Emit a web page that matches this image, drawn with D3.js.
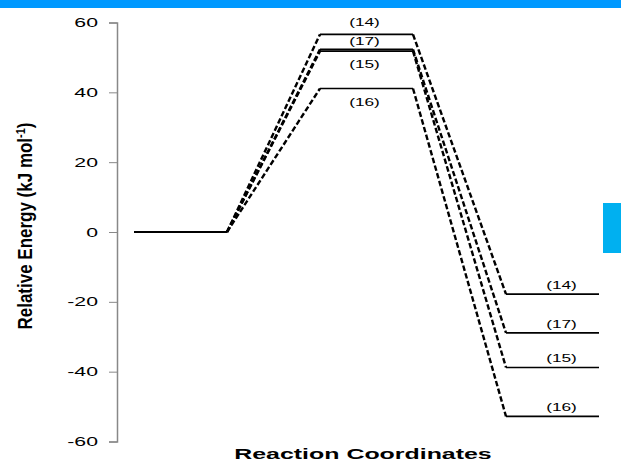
<!DOCTYPE html>
<html>
<head>
<meta charset="utf-8">
<script src="https://d3js.org/d3.v7.min.js"></script>
<style>
  body { margin: 0; background: #fff; }
  svg { display: block; font-family: "Liberation Sans", Arial, sans-serif; }
</style>
</head>
<body>
<div id="chart"></div>
<script>
// data (kJ/mol)
const series = ["(14)", "(17)", "(15)", "(16)"];
const reactant = [0, 0, 0, 0];
const tsEnergy = [56.6, 52.3, 51.8, 41.1];
const productEnergy = [-17.8, -28.9, -38.8, -52.8];
const yTicks = [60, 40, 20, 0, -20, -40, -60];

const width = 621, height = 462;

const svg = d3.select("#chart")
  .append("svg")
    .attr("width", width)
    .attr("height", height);

// decoration strips
svg.append("rect").attr("x", 0).attr("y", 0).attr("width", width).attr("height", 8).attr("fill", "#0099ff");
svg.append("rect").attr("x", 603).attr("y", 203).attr("width", 18).attr("height", 50).attr("fill", "#00b0f0");

// x: stage index 0..5 (reactant start/end, TS start/end, product start/end)
const x = d3.scaleLinear().domain([0, 5]).range([134, 599]);
const y = d3.scaleLinear().domain([-60, 60]).range([441.5, 22.5]);

const yAxis = svg.append("g")
  .attr("transform", "translate(117,0)")
  .call(d3.axisLeft(y).tickValues(yTicks).tickSize(8).tickFormat(d => String(d)));
yAxis.select(".domain").attr("stroke", "#888").attr("stroke-width", 1.5);
yAxis.selectAll(".tick line").attr("stroke", "#888").attr("stroke-width", 1);
// the source picture is stretched sideways, so widen the glyphs
yAxis.selectAll("text")
  .attr("x", 0)
  .attr("transform", "translate(-19,0) scale(1.7,1)")
  .attr("font-size", 12.5).attr("fill", "#000")
  .attr("font-family", "Liberation Sans, Arial, sans-serif");

// y title
svg.append("text")
  .attr("transform", `translate(25,${y(0) - 6}) rotate(-90) scale(1,1.15)`)
  .attr("text-anchor", "middle")
  .attr("font-weight", "bold")
  .attr("font-size", 17)
  .attr("dy", "0.35em")
  .html('Relative Energy (kJ mol<tspan dy="-6" font-size="11">-1</tspan><tspan dy="6">)</tspan>');

// x title
svg.append("text")
  .attr("transform", "translate(363,459) scale(1.78,1)")
  .attr("text-anchor", "middle")
  .attr("font-weight", "bold")
  .attr("font-size", 14)
  .text("Reaction Coordinates");

const g = svg.append("g");

// connectors (dashed)
series.forEach((s, i) => {
  g.append("path")
    .attr("d", d3.line()([[x(1), y(reactant[i])], [x(2), y(tsEnergy[i])]]))
    .attr("stroke", "#000").attr("stroke-width", 2.4).attr("stroke-dasharray", "5.5,2.5").attr("fill", "none");
  g.append("path")
    .attr("d", d3.line()([[x(3), y(tsEnergy[i])], [x(4), y(productEnergy[i])]]))
    .attr("stroke", "#000").attr("stroke-width", 2.4).attr("stroke-dasharray", "5.5,2.5").attr("fill", "none");
});

// levels
series.forEach((s, i) => {
  g.append("line").attr("x1", x(0)).attr("x2", x(1)).attr("y1", y(reactant[i])).attr("y2", y(reactant[i]))
    .attr("stroke", "#000").attr("stroke-width", 2.2);
  g.append("line").attr("x1", x(2)).attr("x2", x(3)).attr("y1", y(tsEnergy[i])).attr("y2", y(tsEnergy[i]))
    .attr("stroke", "#000").attr("stroke-width", 1.6);
  g.append("line").attr("x1", x(4)).attr("x2", x(5)).attr("y1", y(productEnergy[i])).attr("y2", y(productEnergy[i]))
    .attr("stroke", "#000").attr("stroke-width", 1.6);
});

// labels: TS labels above for first two, below for the rest
const tsOffset = [-8, -4.5, 17, 18];
series.forEach((s, i) => {
  g.append("text")
    .attr("transform", `translate(${(x(2) + x(3)) / 2 - 2},${y(tsEnergy[i]) + tsOffset[i]}) scale(1.5,1)`)
    .attr("text-anchor", "middle").attr("font-size", 11.5).text(s);
  g.append("text")
    .attr("transform", `translate(${(x(4) + x(5)) / 2 + 9},${y(productEnergy[i]) - 5}) scale(1.5,1)`)
    .attr("text-anchor", "middle").attr("font-size", 11.5).text(s);
});
</script>
</body>
</html>
